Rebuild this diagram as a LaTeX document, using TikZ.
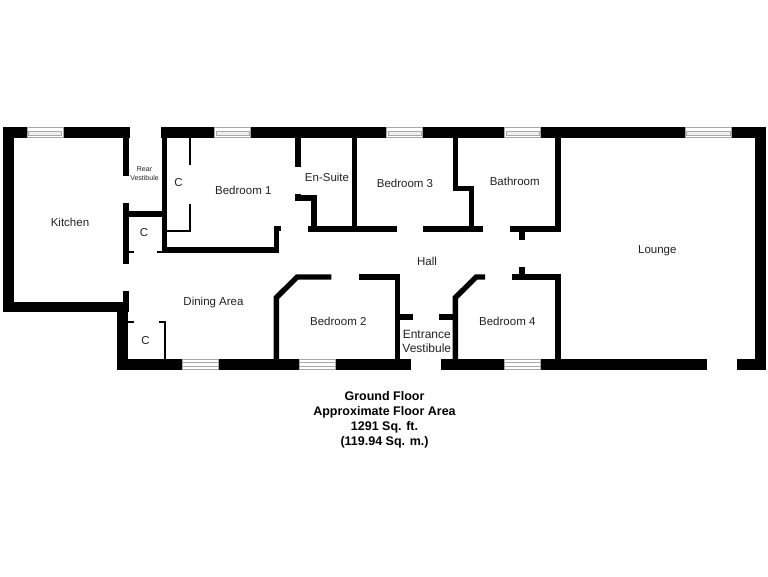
\documentclass[tikz,border=0pt]{standalone}
\usepackage{fontspec}
\setmainfont{Liberation Sans}
\definecolor{txtc}{HTML}{222222}
\definecolor{winc}{HTML}{A8A8A8}
\definecolor{winband}{HTML}{EFEFEF}
\tikzset{
  wall/.style={fill=black,draw=none},
  roomlabel/.style={font=\fontsize{11.5}{13}\selectfont,text=txtc,inner sep=0pt,align=center},
  entrylabel/.style={font=\fontsize{12}{14}\selectfont,text=txtc,inner sep=0pt,align=center},
  smalllabel/.style={font=\fontsize{7}{9.3}\selectfont,text=txtc,inner sep=0pt,align=center},
  titlelabel/.style={font=\fontsize{12.5}{15}\selectfont\bfseries,text=black,inner sep=0pt,align=center},
  winframe/.style={draw=winc,line width=0.5pt,fill=white},
  winline/.style={draw=winc,line width=0.5pt}
}
\newcommand{\windowbar}[3]{% x0, x1, ytop : lower-wall window, evenly ruled
  \draw[winframe] (#1,#3) rectangle (#2,#3+10.5);
  \draw[winline] (#1,#3+3.5) -- (#2,#3+3.5) (#1,#3+7) -- (#2,#3+7);
}
\newcommand{\topwindowbar}[3]{% x0, x1, ytop : upper-wall window, band with end ticks
  \draw[winframe] (#1,#3) rectangle (#2,#3+10.5);
  \draw[winline,fill=winband] (#1+1.5,#3+4) rectangle (#2-1.5,#3+8);
}
\begin{document}
\begin{tikzpicture}[x=1pt,y=-1pt]
\useasboundingbox (0,0) rectangle (768,576);
\fill[white] (0,0) rectangle (768,576);
% outer walls
\fill[wall] (3,127) rectangle (129.5,137.5);
\fill[wall] (160.5,127) rectangle (766,137.5);
\fill[wall] (3,127) rectangle (14,312.3);
\fill[wall] (3,301.7) rectangle (128.5,312.3);
\fill[wall] (117,301.7) rectangle (128,370);
\fill[wall] (117,359) rectangle (410.7,370);
\fill[wall] (441.3,359) rectangle (707,370);
\fill[wall] (736.7,359) rectangle (766,370);
\fill[wall] (755.3,127) rectangle (766,370);
% kitchen / vestibule
\fill[wall] (122.5,137) rectangle (128.5,175.5);
\fill[wall] (122.5,202.5) rectangle (128.5,263.5);
\fill[wall] (122.5,291) rectangle (128.5,302);
\fill[wall] (128,211) rectangle (163,216.7);
\fill[wall] (128,251) rectangle (133.5,252.7);
\fill[wall] (128,321.3) rectangle (133.5,323);
\fill[wall] (162.4,137) rectangle (167,252.7);
\fill[wall] (157,251) rectangle (163,252.7);
% closets
\fill[wall] (189.3,137) rectangle (191,165);
\fill[wall] (189.3,204) rectangle (191,231.5);
\fill[wall] (167,230) rectangle (191,231.5);
\fill[wall] (163.7,321.3) rectangle (165.7,360);
\fill[wall] (158.7,321.3) rectangle (165.7,323);
% bedroom 1
\fill[wall] (163,247.3) rectangle (279.3,252.7);
\fill[wall] (274,226) rectangle (279.3,252.7);
\fill[wall] (274,226) rectangle (281,231.3);
% en-suite
\fill[wall] (295.3,137) rectangle (301,166.7);
\fill[wall] (295.3,193.7) rectangle (301,200.7);
\fill[wall] (295.3,195.3) rectangle (316.7,200.7);
\fill[wall] (311,195.3) rectangle (316.7,231.5);
\fill[wall] (308,226) rectangle (396.7,231.5);
\fill[wall] (351.7,137) rectangle (357,231);
% bedroom 3 / bathroom
\fill[wall] (423.3,226) rectangle (483.3,231.5);
\fill[wall] (452.7,137) rectangle (458,191.3);
\fill[wall] (452.7,186.3) rectangle (474,191.3);
\fill[wall] (468.7,186.3) rectangle (474,231);
\fill[wall] (555.3,137) rectangle (560.7,231.5);
\fill[wall] (510,226) rectangle (560.7,231.5);
\fill[wall] (519,231) rectangle (524.7,240);
% bedroom 2
\fill[wall] (273.7,360) -- (273.7,296.5) -- (296,274.3) -- (331.3,274.3) -- (331.3,279.7) -- (298.2,279.7) -- (279,298.8) -- (279,360) -- cycle;
\fill[wall] (359,274.3) rectangle (400,279.7);
\fill[wall] (394.7,274.3) rectangle (400,360);
\fill[wall] (400,314) rectangle (412.7,319.5);
% bedroom 4
\fill[wall] (452.7,360) -- (452.7,296.5) -- (475,274.3) -- (485,274.3) -- (485,279.7) -- (477.2,279.7) -- (458,298.8) -- (458,360) -- cycle;
\fill[wall] (439.3,314) rectangle (453,319.5);
\fill[wall] (511.7,274.3) rectangle (560.7,279.7);
\fill[wall] (555.3,274.3) rectangle (560.7,360);
\fill[wall] (519,267.3) rectangle (524.7,275);
% windows
\topwindowbar{27}{63}{127}
\topwindowbar{214.3}{250.3}{127}
\topwindowbar{386.3}{422.3}{127}
\topwindowbar{504.7}{540.7}{127}
\topwindowbar{685}{731.7}{127}
\windowbar{182}{218}{359}
\windowbar{299}{335}{359}
\windowbar{504.3}{540.7}{359}
% labels
\node[roomlabel] (kitchen) at (70,222.5) {Kitchen};
\node[smalllabel] (rear) at (144.5,173.5) {Rear\\Vestibule};
\node[roomlabel] (c1) at (178.5,183) {C};
\node[roomlabel] (c2) at (144,233) {C};
\node[roomlabel] (c3) at (145.5,341) {C};
\node[roomlabel] (bed1) at (243.3,190.5) {Bedroom 1};
\node[roomlabel] (ensuite) at (327,177) {En-Suite};
\node[roomlabel] (bed3) at (405,183.5) {Bedroom 3};
\node[roomlabel] (bath) at (514.7,181) {Bathroom};
\node[roomlabel] (lounge) at (657.3,251) {Lounge};
\node[roomlabel] (hall) at (427,261.5) {Hall};
\node[roomlabel] (dining) at (213.5,303) {Dining Area};
\node[roomlabel] (bed2) at (338.3,321.5) {Bedroom 2};
\node[roomlabel] (bed4) at (507.3,321.5) {Bedroom 4};
\node[entrylabel] (entrance) at (426.8,341) {Entrance\\Vestibule};
\node[titlelabel] (title) at (384.5,419.5) {Ground Floor\\Approximate Floor Area\\1291 Sq. ft.\\(119.94 Sq. m.)};
\end{tikzpicture}
\end{document}
